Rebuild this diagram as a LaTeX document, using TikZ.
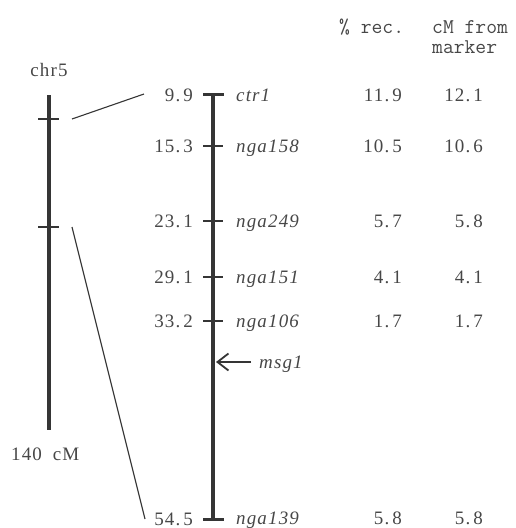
\documentclass[tikz,border=0pt]{standalone}
\usepackage{fontspec}
\setmainfont{Liberation Serif}[LetterSpace=6]
\usetikzlibrary{arrows.meta}
\definecolor{ink}{HTML}{353535}
\definecolor{txt}{HTML}{474747}
\newcommand{\dt}{.\hspace{3pt}}
\tikzset{
  lbl/.style={inner sep=0pt, text=txt, font=\fontsize{19}{21}\selectfont},
  hdr/.style={inner sep=0pt, text=txt, anchor=base west, font=\fontsize{21}{20}\ttfamily},
  posl/.style={lbl, anchor=base east},
  markl/.style={lbl, anchor=base west, font=\fontsize{19}{21}\selectfont\itshape},
  chrom/.style={draw=ink, line width=4.5pt},
  tickl/.style={draw=ink, line width=2.2pt},
  link/.style={draw=ink, line width=1.1pt},
}
\begin{document}
\begin{tikzpicture}[x=1pt,y=-1pt]
\useasboundingbox (0,0) rectangle (515,528);
% left chromosome
\coordinate (L0) at (49,95);
\coordinate (L1) at (49,430);
\draw[chrom, line width=4pt] (L0) -- (L1);
\coordinate (LtA) at (49,119);
\coordinate (LtB) at (49,227);
\draw[tickl] ([xshift=-11pt]LtA) -- ([xshift=10pt]LtA);
\draw[tickl] ([xshift=-11pt]LtB) -- ([xshift=10pt]LtB);
\node[lbl, anchor=base] (chr) at (49,76) {chr5};
\node[lbl, anchor=base west] (len) at (11,460) {140\hspace{5pt} cM};
% right chromosome
\coordinate (R0) at (213,94);
\coordinate (R1) at (213,519);
\draw[chrom] (R0) -- (R1);
\draw[tickl, line width=3pt] (203,94) -- (224,94);
\draw[tickl, line width=3pt] (203,519) -- (224,519);
\foreach \y in {146,221,277,321}{\draw[tickl] (203,\y) -- (223,\y);}
% connectors
\coordinate (cA1) at (72,119);
\coordinate (cA2) at (144,94);
\coordinate (cB1) at (72,227);
\coordinate (cB2) at (145,519);
\draw[link] (cA1) -- (cA2);
\draw[link] (cB1) -- (cB2);
% positions
\node[posl] (p1) at (193,101) {9\dt9};
\node[posl] (p2) at (193,152) {15\dt3};
\node[posl] (p3) at (193,227) {23\dt1};
\node[posl] (p4) at (193,283) {29\dt1};
\node[posl] (p5) at (193,327) {33\dt2};
\node[posl] (p6) at (193,525) {54\dt5};
% markers
\node[markl] (m1) at (236,101) {ctr1};
\node[markl] (m2) at (236,152) {nga158};
\node[markl] (m3) at (236,227) {nga249};
\node[markl] (m4) at (236,283) {nga151};
\node[markl] (m5) at (236,327) {nga106};
\node[markl] (m6) at (259,368) {msg1};
\node[markl] (m7) at (236,524) {nga139};
% arrow
\coordinate (aS) at (251,362);
\coordinate (aT) at (216,362);
\draw[ink, line width=1.8pt, -{Straight Barb[length=11pt,width=17pt,line width=1.8pt]}] (aS) -- (aT);
% headers
\node[hdr] (h1) at (339,33) {\% rec.};
\node[hdr, align=left] (h2) at (432,53) {cM from\\marker};
% values
\node[posl] (a1) at (402,101) {11\dt9};
\node[posl] (a2) at (402,152) {10\dt5};
\node[posl] (a3) at (402,227) {5\dt7};
\node[posl] (a4) at (402,283) {4\dt1};
\node[posl] (a5) at (402,327) {1\dt7};
\node[posl] (a6) at (402,524) {5\dt8};
\node[posl] (b1) at (483,101) {12\dt1};
\node[posl] (b2) at (483,152) {10\dt6};
\node[posl] (b3) at (483,227) {5\dt8};
\node[posl] (b4) at (483,283) {4\dt1};
\node[posl] (b5) at (483,327) {1\dt7};
\node[posl] (b6) at (483,524) {5\dt8};
\end{tikzpicture}
\end{document}
